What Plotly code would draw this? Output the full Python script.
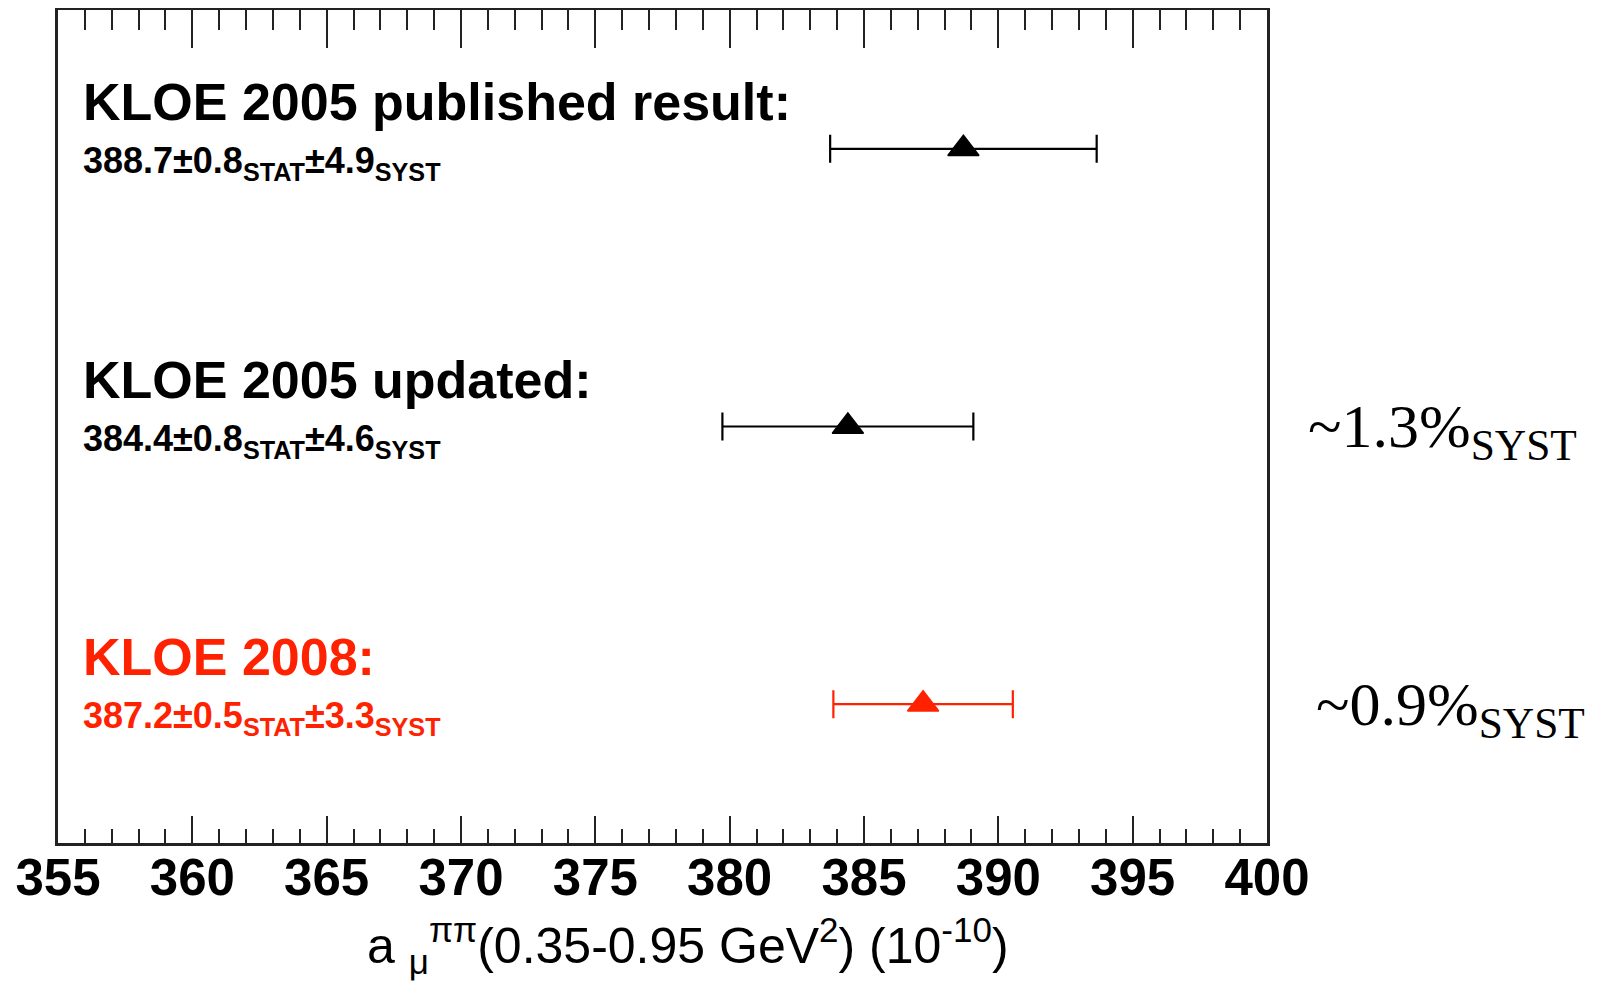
import plotly.graph_objects as go

# ---- data ----
names = ["KLOE 2005 published result:", "KLOE 2005 updated:", "KLOE 2008:"]
values = [388.7, 384.4, 387.2]
stat_err = ["0.8", "0.8", "0.5"]
syst_err = ["4.9", "4.6", "3.3"]
total_err = [4.96, 4.67, 3.34]
colors = ["#000000", "#000000", "#ff2200"]
syst_pct = [None, "~1.3%", "~0.9%"]
x_ticks = [355, 360, 365, 370, 375, 380, 385, 390, 395, 400]
x_title = "a <sub>μ</sub><sup>ππ</sup>(0.35-0.95 GeV<sup>2</sup>) (10<sup>-10</sup>)"

SANS = "Liberation Sans, Arial, Helvetica, sans-serif"
SERIF = "Liberation Serif, Times New Roman, serif"

fig = go.Figure()
for n, v, e, c in zip(names, values, total_err, colors):
    fig.add_trace(go.Scatter(
        x=[v], y=[n], mode="markers",
        marker=dict(symbol="triangle-up", size=27, color=c, line=dict(width=1.5, color=c)),
        error_x=dict(type="data", array=[e], color=c, thickness=2.2, width=14),
        showlegend=False, cliponaxis=False,
    ))

annotations = []
for n, s, sy, c, p in zip(names, stat_err, syst_err, colors, syst_pct):
    annotations.append(dict(
        x=0.019, xref="paper", y=n, yref="y", xanchor="left", yanchor="middle",
        text=n, showarrow=False, yshift=47,
        font=dict(family=SANS, size=52, color=c, weight="bold"),
    ))
    annotations.append(dict(
        x=0.019, xref="paper", y=n, yref="y", xanchor="left", yanchor="middle",
        text=f"{values[names.index(n)]}±{s}<sub>STAT</sub>±{sy}<sub>SYST</sub>",
        showarrow=False, yshift=-14,
        font=dict(family=SANS, size=36, color=c, weight="bold"),
    ))
    if p:
        annotations.append(dict(
            x=1.0325 if p == "~1.3%" else 1.0385, xref="paper", y=n, yref="y",
            xanchor="left", yanchor="middle",
            text=f"{p}<sub>SYST</sub>", showarrow=False, yshift=-4,
            font=dict(family=SERIF, size=62, color="black"),
        ))

# x-axis title (offset to the right as in the original)
annotations.append(dict(
    x=0.5215, xref="paper", y=-0.123, yref="paper", xanchor="center", yanchor="middle",
    text=x_title, showarrow=False,
    font=dict(family=SANS, size=50, color="black"),
))

fig.update_layout(
    width=1584, height=976,
    margin=dict(l=50, r=325, t=2, b=141),
    paper_bgcolor="white", plot_bgcolor="white",
    annotations=annotations,
    xaxis=dict(
        range=[355, 400], tickvals=x_ticks, ticktext=[str(t) for t in x_ticks],
        showline=True, linecolor="#222", linewidth=2.5, mirror=False,
        ticks="inside", ticklen=27, tickwidth=2, tickcolor="#222",
        minor=dict(dtick=1, tick0=355, ticks="inside", ticklen=14, tickwidth=2, tickcolor="#222"),
        showgrid=False, zeroline=False, ticklabelstandoff=-12,
        tickfont=dict(family=SANS, size=51, color="black", weight="bold"),
    ),
    xaxis2=dict(
        range=[355, 400], overlaying="x", side="top", matches="x",
        tickvals=x_ticks, showticklabels=False,
        showline=True, linecolor="#222", linewidth=2.5,
        ticks="inside", ticklen=38, tickwidth=2, tickcolor="#222",
        minor=dict(dtick=1, tick0=355, ticks="inside", ticklen=20, tickwidth=2, tickcolor="#222"),
        showgrid=False, zeroline=False,
    ),
    yaxis=dict(
        type="category", categoryorder="array", categoryarray=names[::-1],
        range=[-0.5, 2.5], showline=True, mirror=True, linecolor="#222", linewidth=2.5,
        ticks="", showticklabels=False, showgrid=False, zeroline=False,
    ),
)
# invisible trace to activate the top axis
fig.add_trace(go.Scatter(x=[values[0]], y=[names[0]], xaxis="x2", mode="markers",
                         marker=dict(opacity=0), showlegend=False, hoverinfo="skip"))

fig.write_html("out.html")
